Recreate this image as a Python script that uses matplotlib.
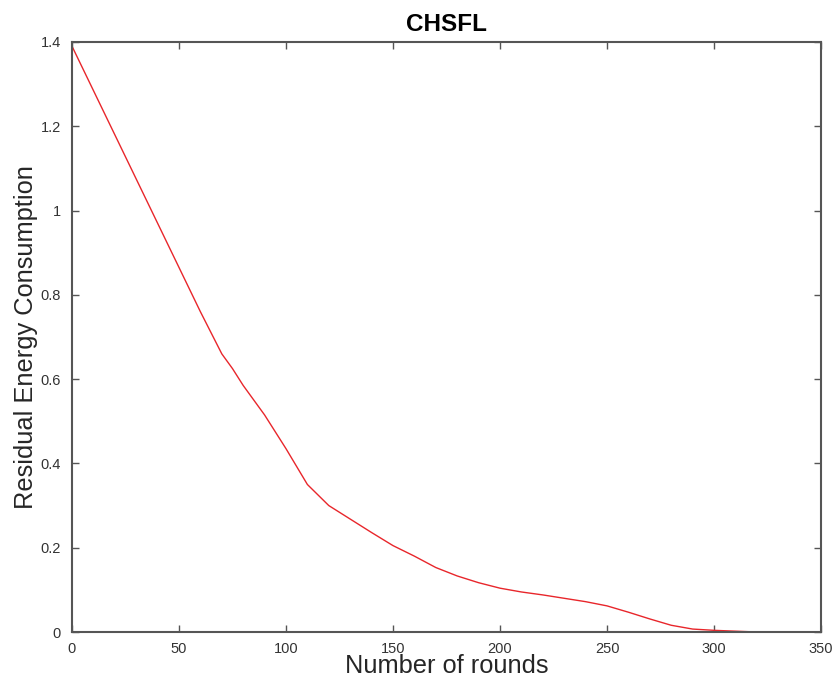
import matplotlib
matplotlib.use('Agg')
import matplotlib.pyplot as plt

# residual energy vs. rounds
rounds = [0, 10, 20, 30, 40, 50, 60, 70, 75, 80, 90, 100, 110, 120, 130, 140,
          150, 160, 170, 180, 190, 200, 210, 220, 230, 240, 250, 260, 270,
          280, 290, 300, 310, 320]
energy = [1.39, 1.285, 1.18, 1.075, 0.97, 0.865, 0.76, 0.66, 0.625, 0.585,
          0.515, 0.435, 0.35, 0.30, 0.268, 0.236, 0.205, 0.18, 0.153, 0.133,
          0.117, 0.104, 0.095, 0.088, 0.08, 0.072, 0.062, 0.047, 0.031, 0.016,
          0.007, 0.004, 0.002, 0.0]

xticks = [0, 50, 100, 150, 200, 250, 300, 350]
yticks = [0, 0.2, 0.4, 0.6, 0.8, 1.0, 1.2, 1.4]
ytick_labels = ['0', '0.2', '0.4', '0.6', '0.8', '1', '1.2', '1.4']

plt.rcParams['font.family'] = ['Liberation Sans', 'DejaVu Sans']

fig = plt.figure(figsize=(8.36, 6.79), dpi=100)
ax = fig.add_axes([0.0861, 0.0692, 0.896, 0.869])

ax.plot(rounds, energy, color='#e8262b', linewidth=1.0)

ax.set_xlim(0, 350)
ax.set_ylim(0, 1.4)
ax.set_xticks(xticks)
ax.set_yticks(yticks)
ax.set_yticklabels(ytick_labels)
ax.tick_params(direction='in', length=5, width=1, color='#555555',
               labelcolor='#333333', labelsize=10.5, top=True, right=True)
ax.tick_params(axis='x', pad=7)
ax.tick_params(axis='y', pad=8)
for s in ax.spines.values():
    s.set_color('#555555')
    s.set_linewidth(1.5)

ax.set_title('CHSFL', fontsize=17.5, fontweight='bold', pad=8)
ax.set_xlabel('Number of rounds', fontsize=18.3, color='#262626', labelpad=-1)
ax.set_ylabel('Residual Energy Consumption', fontsize=18.3, color='#262626', labelpad=2)

fig.savefig('out.png', dpi=100)
